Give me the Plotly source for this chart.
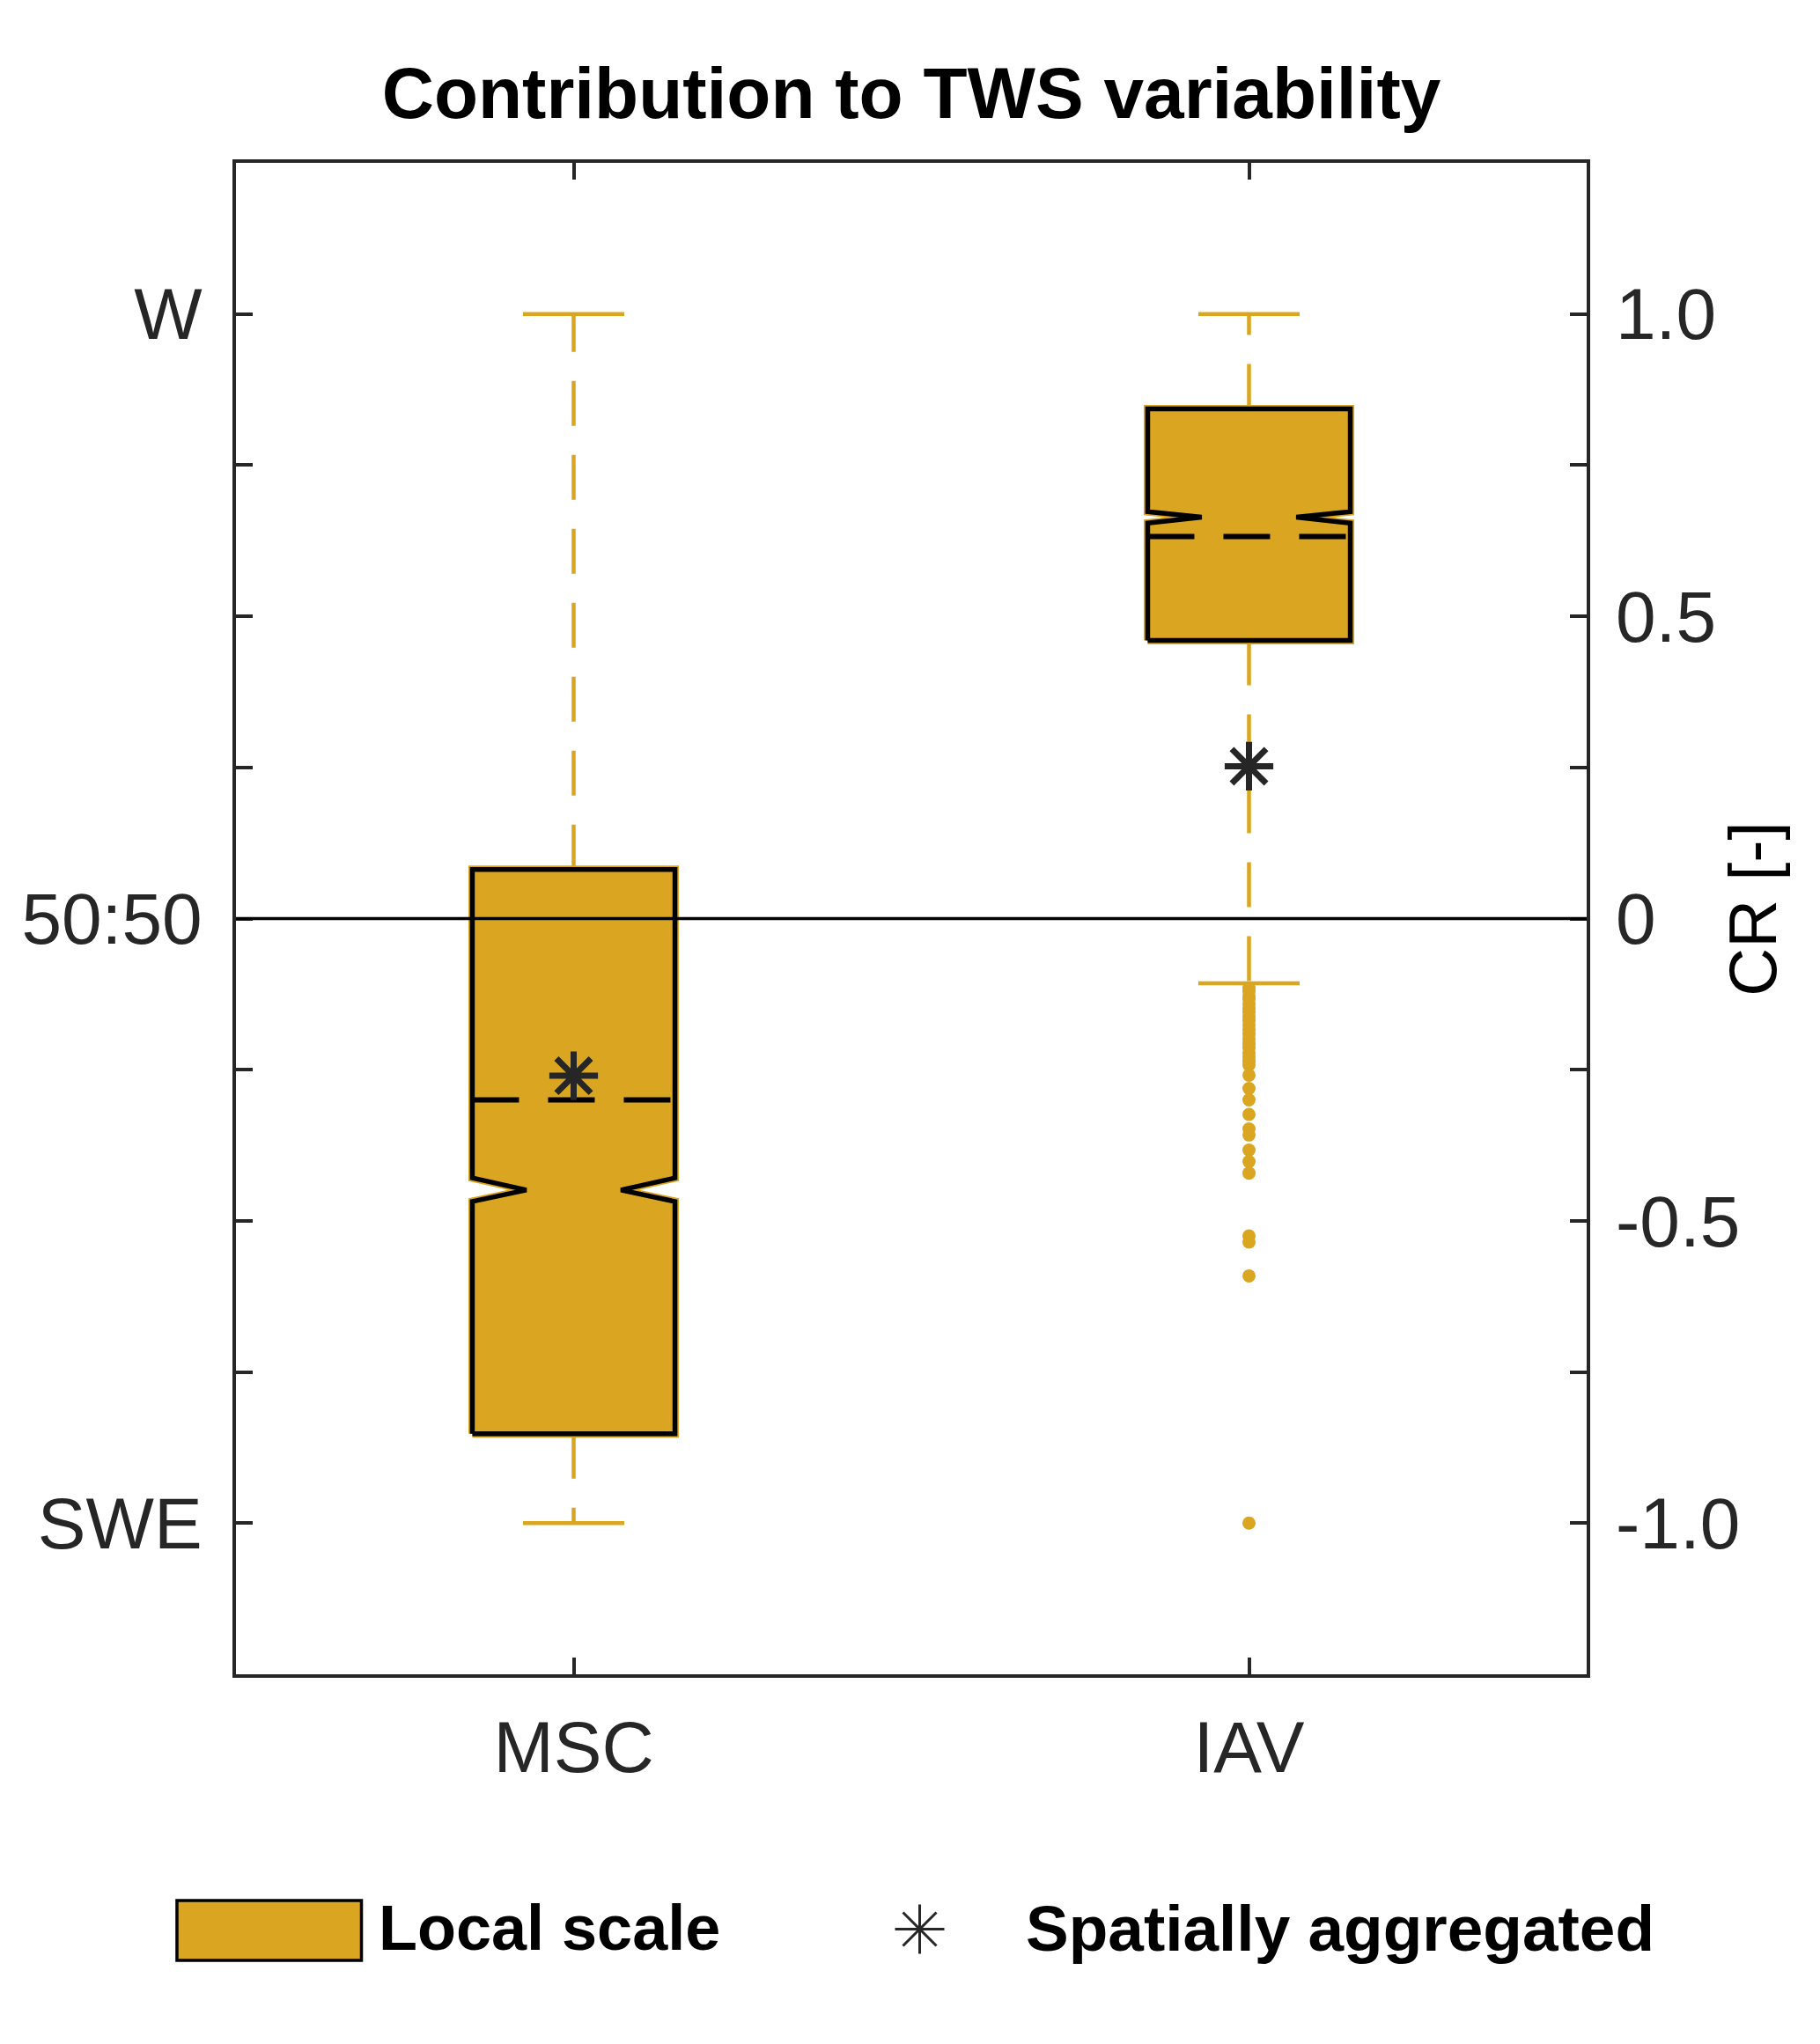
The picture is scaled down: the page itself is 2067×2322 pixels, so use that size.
import plotly.graph_objects as go

# values (CR units)
categories = ['MSC', 'IAV']
x_pos = [1, 2]
q1 = [-0.852, 0.460]
q3 = [0.081, 0.843]
median = [-0.449, 0.664]
notch_lo = [-0.468, 0.654]
notch_hi = [-0.429, 0.673]
mean = [-0.300, 0.632]
whisker_lo = [-1.0, -0.107]
whisker_hi = [1.0, 1.0]
aggregated = [-0.260, 0.252]

# outliers of IAV (below the lower whisker)
iav_outliers = [-0.115, -0.121, -0.128, -0.133, -0.141, -0.148, -0.154, -0.162,
                -0.169, -0.176, -0.184, -0.191, -0.199, -0.207, -0.214, -0.222,
                -0.229, -0.236, -0.242, -0.259, -0.281, -0.300, -0.324, -0.348,
                -0.358, -0.383, -0.402, -0.421, -0.525, -0.535, -0.591, -1.0]

left_tickvals = [-1.0, -0.75, -0.5, -0.25, 0, 0.25, 0.5, 0.75, 1.0]
left_ticktext = ['SWE', '', '', '', '50:50', '', '', '', 'W']
right_ticktext = ['-1.0', '', '-0.5', '', '0', '', '0.5', '', '1.0']

GOLD = '#DAA520'
DARK = '#262626'
FONT = 'Liberation Sans, Arial, sans-serif'
BOX_HALF = 0.15
NOTCH_IN = 0.08
CAP_HALF = 0.075

fig = go.Figure()

for i, name in enumerate(categories):
    c = x_pos[i]
    # whiskers
    fig.add_trace(go.Scatter(x=[c, c], y=[q3[i], whisker_hi[i]], mode='lines',
                             line=dict(color=GOLD, width=4.5, dash='51px,33px'), showlegend=False, hoverinfo='skip'))
    fig.add_trace(go.Scatter(x=[c, c], y=[q1[i], whisker_lo[i]], mode='lines',
                             line=dict(color=GOLD, width=4.5, dash='51px,33px'), showlegend=False, hoverinfo='skip'))
    # caps
    for w in (whisker_hi[i], whisker_lo[i]):
        fig.add_trace(go.Scatter(x=[c - CAP_HALF, c + CAP_HALF], y=[w, w], mode='lines',
                                 line=dict(color=GOLD, width=4.5), showlegend=False, hoverinfo='skip'))
    # notched box
    left, right = c - BOX_HALF, c + BOX_HALF
    bx = [left, left, left + NOTCH_IN, left, left, right, right, right - NOTCH_IN, right, right, left]
    by = [q1[i], notch_lo[i], median[i], notch_hi[i], q3[i], q3[i], notch_hi[i], median[i],
          notch_lo[i], q1[i], q1[i]]
    fig.add_trace(go.Scatter(x=bx, y=by, mode='lines', fill='toself', fillcolor=GOLD,
                             line=dict(color=GOLD, width=9), name='Local scale', showlegend=False))
    fig.add_trace(go.Scatter(x=bx, y=by, mode='lines', line=dict(color='black', width=5.5),
                             showlegend=False, hoverinfo='skip'))
    # mean line
    fig.add_trace(go.Scatter(x=[left, right], y=[mean[i], mean[i]], mode='lines',
                             line=dict(color='black', width=6, dash='53px,33px'), showlegend=False))

fig.add_trace(go.Scatter(x=[x_pos[1]] * len(iav_outliers), y=iav_outliers, mode='markers',
                         marker=dict(color=GOLD, size=15), showlegend=False))

fig.add_trace(go.Scatter(x=x_pos, y=aggregated, mode='markers', yaxis='y2', name='Spatially aggregated',
                         marker=dict(symbol='asterisk-open', size=46, color=DARK,
                                     line=dict(color=DARK, width=7)),
                         showlegend=False))

# legend drawn by hand below the axes
fig.add_shape(type='rect', xref='paper', yref='paper', x0=-0.0437, x1=0.0929, y0=-0.1893, y1=-0.1497,
              fillcolor=GOLD, line=dict(color='black', width=3.5))
fig.add_shape(type='path', xref='paper', yref='paper', xsizemode='pixel', ysizemode='pixel',
              xanchor=0.5062, yanchor=-0.1686,
              path='M-28,0L28,0M0,-28L0,28M-19,-19L19,19M-19,19L19,-19',
              line=dict(color=DARK, width=3))
fig.add_annotation(x=0.104, y=-0.168, xref='paper', yref='paper', text='<b>Local scale</b>',
                   showarrow=False, xanchor='left', yanchor='middle',
                   font=dict(family=FONT, size=72, color='black'))
fig.add_annotation(x=0.5834, y=-0.168, xref='paper', yref='paper', text='<b>Spatially aggregated</b>',
                   showarrow=False, xanchor='left', yanchor='middle',
                   font=dict(family=FONT, size=73, color='black'))

# right axis title
fig.add_annotation(x=1.1229, y=0.506, xref='paper', yref='paper', text='CR [-]', textangle=-90,
                   showarrow=False, xanchor='center', yanchor='middle',
                   font=dict(family=FONT, size=76, color='black'))

# 50:50 line
fig.add_shape(type='line', xref='paper', yref='y', x0=0, x1=1, y0=0, y1=0,
              line=dict(color='black', width=3.6), layer='above')

axis_common = dict(showgrid=False, zeroline=False, ticks='inside', ticklen=19, tickwidth=4,
                   tickcolor=DARK, tickfont=dict(family=FONT, size=82, color=DARK))

fig.update_layout(
    width=2067, height=2322,
    margin=dict(l=268, r=265, t=185, b=420),
    paper_bgcolor='white', plot_bgcolor='white',
    title=dict(text='<b>Contribution to TWS variability</b>', x=0.5, xref='paper', xanchor='center',
               y=0.9548, yanchor='middle', font=dict(family=FONT, size=82, color='black')),
    xaxis=dict(range=[0.5, 2.5], tickvals=x_pos, ticktext=categories, showline=True, linewidth=4,
               linecolor=DARK, mirror='ticks', ticklabelstandoff=9, **axis_common),
    yaxis=dict(range=[-1.25, 1.25], tickvals=left_tickvals, ticktext=left_ticktext, showline=True,
               linewidth=4, linecolor=DARK, mirror='ticks', ticklabelstandoff=18, **axis_common),
    yaxis2=dict(range=[-1.25, 1.25], overlaying='y', side='right', tickvals=left_tickvals,
                ticktext=right_ticktext, showline=False, showgrid=False, zeroline=False, ticks='',
                ticklabelstandoff=32, tickfont=dict(family=FONT, size=82, color=DARK)),
    showlegend=False,
)

# drop the page's default body margin so the figure sits at the window origin
fig.write_html('out.html', config={'displayModeBar': False},
               post_script="document.body.style.margin='0';")
